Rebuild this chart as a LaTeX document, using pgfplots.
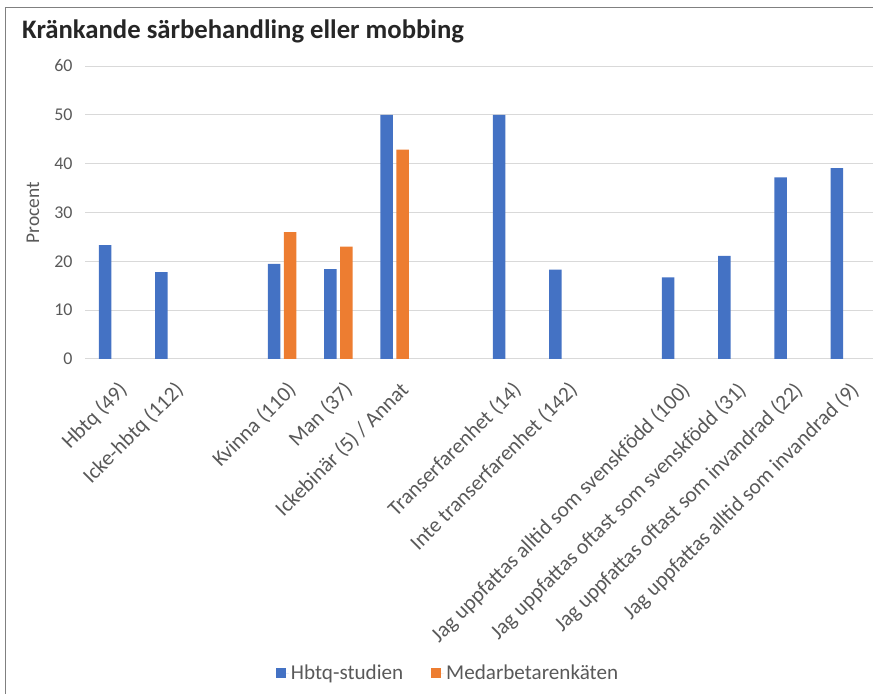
\documentclass[border=0pt]{standalone}
\usepackage{pgfplots}
\pgfplotsset{compat=1.18}
\usepackage{fontspec}
\setmainfont{Carlito}
\definecolor{cblue}{HTML}{4472C4}
\definecolor{corange}{HTML}{ED7D31}
\definecolor{ctext}{HTML}{595959}
\definecolor{cgrid}{HTML}{D9D9D9}
\definecolor{ctitle}{HTML}{262626}
\definecolor{cframe}{HTML}{808080}
\begin{document}
\begin{tikzpicture}
\useasboundingbox (0bp,0bp) rectangle (873bp,694bp);
\draw[cframe, line width=1.2bp] (5.5bp,-10bp) -- (5.5bp,686.5bp) -- (890bp,686.5bp);
\node[anchor=base west, text=ctitle, inner sep=0pt, font=\fontsize{26.8}{30}\selectfont\bfseries] at (22bp,655bp) {Kränkande särbehandling eller mobbing};
\begin{axis}[
  at={(85bp,335bp)}, anchor=south west,
  width=788bp, height=293bp, scale only axis,
  ybar=3.5bp, bar width=12.5bp,
  xmin=-0.5, xmax=13.5, ymin=0, ymax=60,
  ytick={0,10,...,60},
  xtick={0,1,3,4,5,7,8,10,11,12,13},
  xticklabels={Hbtq (49), Icke-hbtq (112), Kvinna (110), Man (37), Ickebinär (5) / Annat, Transerfarenhet (14), Inte transerfarenhet (142), Jag uppfattas alltid som svenskfödd (100), Jag uppfattas oftast som svenskfödd (31), Jag uppfattas oftast som invandrad (22), Jag uppfattas alltid som invandrad (9)},
  ymajorgrids, grid style={cgrid, line width=1bp},
  axis line style={draw=none},
  major tick length=0pt,
  tick label style={text=ctext},
  /pgf/number format/assume math mode=true,
  yticklabel style={font=\fontsize{18}{20}\selectfont, anchor=east, xshift=-9bp},
  xticklabel style={font=\fontsize{21.5}{23}\selectfont, xshift=4bp, yshift=-21bp, rotate=45, anchor=north east, inner sep=0pt},
  ylabel={Procent},
  every axis y label/.style={at={(axis description cs:-0.066,0.5)}, rotate=90, anchor=center, font=\fontsize{19.5}{21}\selectfont, text=ctext},
  legend columns=2,
  legend style={at={(axis description cs:0.4607,-1.0717)}, anchor=center, draw=none, fill=none, font=\fontsize{21.2}{23}\selectfont, text=ctext, /tikz/every even column/.append style={column sep=26bp}},
  legend image code/.code={\path (0bp,0bp) -- (13bp,0bp); \fill[#1] (0bp,-5bp) rectangle (10bp,5bp);},
]
\addplot[fill=cblue, draw=none] coordinates {(0,23.3) (1,17.8) (3,19.5) (4,18.4) (5,50) (7,50) (8,18.3) (10,16.7) (11,21.1) (12,37.2) (13,39.1)};
\addplot[fill=corange, draw=none] coordinates {(3,26) (4,23) (5,42.9)};
\legend{Hbtq-studien, Medarbetarenkäten}
\end{axis}
\end{tikzpicture}
\end{document}
